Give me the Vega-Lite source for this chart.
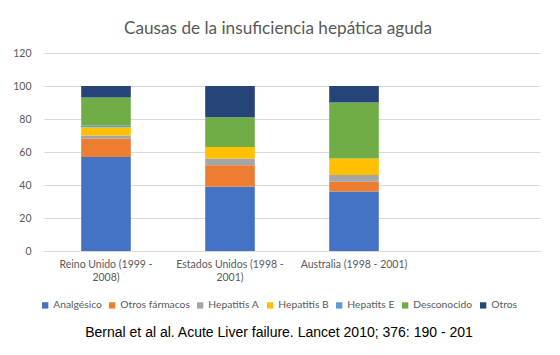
{
  "$schema": "https://vega.github.io/schema/vega-lite/v6.json",
  "width": 496,
  "height": 198,
  "autosize": {"type": "none"},
  "padding": {"left": 44, "top": 53, "right": 20, "bottom": 104},
  "background": "white",
  "title": {
    "text": "Causas de la insuficiencia hepática aguda",
    "font": "Lato",
    "fontSize": 17.2,
    "fontWeight": "normal",
    "color": "#595959",
    "anchor": "middle",
    "frame": "group",
    "dx": -14,
    "offset": 11
  },
  "data": {
    "values": [
      {"pais": "Reino Unido (1999 - 2008)", "causa": "Analgésico", "valor": 57},
      {"pais": "Reino Unido (1999 - 2008)", "causa": "Otros fármacos", "valor": 11},
      {"pais": "Reino Unido (1999 - 2008)", "causa": "Hepatitis A", "valor": 2},
      {"pais": "Reino Unido (1999 - 2008)", "causa": "Hepatitis B", "valor": 5},
      {"pais": "Reino Unido (1999 - 2008)", "causa": "Hepatits E", "valor": 1},
      {"pais": "Reino Unido (1999 - 2008)", "causa": "Desconocido", "valor": 17},
      {"pais": "Reino Unido (1999 - 2008)", "causa": "Otros", "valor": 7},
      {"pais": "Estados Unidos (1998 - 2001)", "causa": "Analgésico", "valor": 39},
      {"pais": "Estados Unidos (1998 - 2001)", "causa": "Otros fármacos", "valor": 13},
      {"pais": "Estados Unidos (1998 - 2001)", "causa": "Hepatitis A", "valor": 4},
      {"pais": "Estados Unidos (1998 - 2001)", "causa": "Hepatitis B", "valor": 7},
      {"pais": "Estados Unidos (1998 - 2001)", "causa": "Hepatits E", "valor": 0},
      {"pais": "Estados Unidos (1998 - 2001)", "causa": "Desconocido", "valor": 18},
      {"pais": "Estados Unidos (1998 - 2001)", "causa": "Otros", "valor": 19},
      {"pais": "Australia (1998 - 2001)", "causa": "Analgésico", "valor": 36},
      {"pais": "Australia (1998 - 2001)", "causa": "Otros fármacos", "valor": 6},
      {"pais": "Australia (1998 - 2001)", "causa": "Hepatitis A", "valor": 4},
      {"pais": "Australia (1998 - 2001)", "causa": "Hepatitis B", "valor": 10},
      {"pais": "Australia (1998 - 2001)", "causa": "Hepatits E", "valor": 0},
      {"pais": "Australia (1998 - 2001)", "causa": "Desconocido", "valor": 34},
      {"pais": "Australia (1998 - 2001)", "causa": "Otros", "valor": 10}
    ]
  },
  "transform": [
    {"calculate": "indexof(['Analgésico', 'Otros fármacos', 'Hepatitis A', 'Hepatitis B', 'Hepatits E', 'Desconocido', 'Otros'], datum.causa)", "as": "orden"}
  ],
  "mark": {"type": "bar"},
  "encoding": {
    "x": {
      "field": "pais",
      "type": "nominal",
      "scale": {
        "domain": ["Reino Unido (1999 - 2008)", "Estados Unidos (1998 - 2001)", "Australia (1998 - 2001)", " "],
        "paddingInner": 0.6,
        "paddingOuter": 0.3
      },
      "axis": {
        "title": null,
        "labelAngle": 0,
        "labelExpr": "datum.value == 'Australia (1998 - 2001)' ? datum.value : split(replace(datum.value, '- ', '-|'), '|')",
        "labelFont": "Lato",
        "labelFontSize": 10.5,
        "labelColor": "#595959",
        "labelLineHeight": 13,
        "labelPadding": 8,
        "labelLimit": 0,
        "ticks": false,
        "domain": true,
        "domainColor": "#D9D9D9",
        "grid": false
      }
    },
    "y": {
      "field": "valor",
      "type": "quantitative",
      "stack": "zero",
      "scale": {"domain": [0, 120], "nice": false},
      "axis": {
        "title": null,
        "values": [0, 20, 40, 60, 80, 100, 120],
        "grid": true,
        "gridColor": "#D9D9D9",
        "gridWidth": 1,
        "domain": false,
        "ticks": false,
        "labelFont": "Lato",
        "labelFontSize": 10.5,
        "labelColor": "#595959",
        "labelPadding": 13
      }
    },
    "color": {
      "field": "causa",
      "type": "nominal",
      "scale": {
        "domain": ["Analgésico", "Otros fármacos", "Hepatitis A", "Hepatitis B", "Hepatits E", "Desconocido", "Otros"],
        "range": ["#4472C4", "#ED7D31", "#A5A5A5", "#FFC000", "#5B9BD5", "#70AD47", "#264478"]
      },
      "legend": {
        "orient": "none",
        "legendX": -4,
        "legendY": 247,
        "direction": "horizontal",
        "symbolType": "square",
        "symbolSize": 40,
        "symbolStrokeWidth": 0,
        "labelFont": "Lato",
        "labelFontSize": 10.3,
        "labelColor": "#595959",
        "labelOffset": 3,
        "columnPadding": 5,
        "title": "Bernal et al al. Acute Liver failure. Lancet 2010; 376: 190 - 201",
        "titleOrient": "bottom",
        "titleAnchor": "middle",
        "titleFont": "Liberation Sans",
        "titleFontSize": 14,
        "titleFontWeight": "normal",
        "titleColor": "black",
        "titleLimit": 0,
        "titlePadding": 15
      }
    },
    "order": {"field": "orden", "type": "quantitative", "sort": "ascending"}
  },
  "config": {"view": {"stroke": null}}
}
